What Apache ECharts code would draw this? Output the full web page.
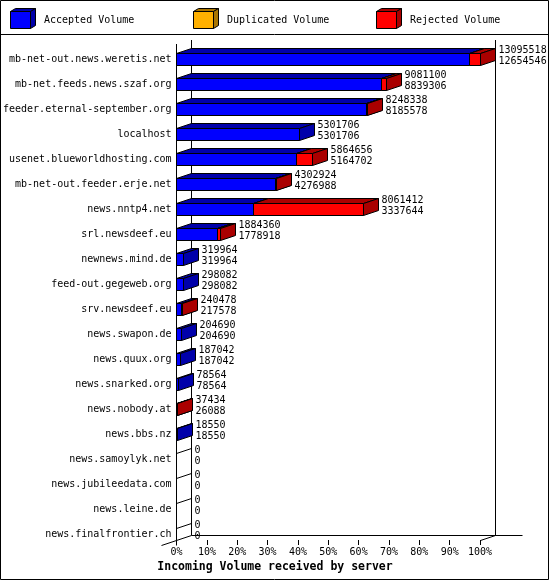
<!DOCTYPE html>
<html><head><meta charset="utf-8">
<script src="https://cdn.jsdelivr.net/npm/echarts@6/dist/echarts.min.js"></script>
<style>html,body{margin:0;padding:0;background:#fff}#c{width:550px;height:580px}</style>
</head><body><div id="c"></div><script>
const servers = [
  'mb-net-out.news.weretis.net','mb-net.feeds.news.szaf.org','feeder.eternal-september.org',
  'localhost','usenet.blueworldhosting.com','mb-net-out.feeder.erje.net','news.nntp4.net',
  'srl.newsdeef.eu','newnews.mind.de','feed-out.gegeweb.org','srv.newsdeef.eu','news.swapon.de',
  'news.quux.org','news.snarked.org','news.nobody.at','news.bbs.nz','news.samoylyk.net',
  'news.jubileedata.com','news.leine.de','news.finalfrontier.ch'
];
const totals = [13095518, 9081100, 8248338, 5301706, 5864656, 4302924, 8061412, 1884360,
  319964, 298082, 240478, 204690, 187042, 78564, 37434, 18550, 0, 0, 0, 0];
const accepted = [12654546, 8839306, 8185578, 5301706, 5164702, 4276988, 3337644, 1778918,
  319964, 298082, 217578, 204690, 187042, 78564, 26088, 18550, 0, 0, 0, 0];
const duplicated = [0, 0, 0, 0, 0, 0, 0, 0, 0, 0, 0, 0, 0, 0, 0, 0, 0, 0, 0, 0];
const rejected = [440972, 241794, 62760, 0, 699954, 25936, 4723768, 105442,
  0, 0, 22900, 0, 0, 0, 11346, 0, 0, 0, 0, 0];
const legendNames = ['Accepted Volume', 'Duplicated Volume', 'Rejected Volume'];
const axisTitle = 'Incoming Volume received by server';

const MONO = '"DejaVu Sans Mono", "Liberation Mono", monospace';
const FRONT = ['#0000ff', '#ffb000', '#ff0000'];
const DARK = ['#0000aa', '#aa7500', '#aa0000'];
const DX = 15, DY = 5;
const MAX = Math.max(...totals);
const snap = v => Math.floor(v) + 0.5;

function faces(x0, x1, yt, yb, dx, dy, front, dark, out) {
  const st = {stroke: '#000', lineWidth: 1};
  out.push({type: 'polygon', shape: {points: [[x0, yt], [x1, yt], [x1, yb], [x0, yb]]}, style: Object.assign({fill: front}, st)});
  out.push({type: 'polygon', shape: {points: [[x0, yt], [x1, yt], [x1 + dx, yt - dy], [x0 + dx, yt - dy]]}, style: Object.assign({fill: dark}, st)});
  out.push({type: 'polygon', shape: {points: [[x1, yt], [x1 + dx, yt - dy], [x1 + dx, yb - dy], [x1, yb]]}, style: Object.assign({fill: dark}, st)});
}

const barData = servers.map((s, i) => [i, accepted[i], duplicated[i], rejected[i], totals[i]]);

function renderBar(params, api) {
  const i = api.value(0);
  const vals = [api.value(1), api.value(2), api.value(3)];
  const tot = api.value(4);
  const X = v => snap(api.coord([v / MAX * 100, i])[0]);
  const yc = api.coord([0, i])[1];
  const h = api.size([0, 1])[1] * 0.24;
  const yt = snap(yc - h), yb = snap(yc + h);
  const children = [];
  let cum = 0;
  if (vals[0] + vals[1] + vals[2] === 0) {
    const x = X(0);
    children.push({type: 'line', shape: {x1: x, y1: yt, x2: x + DX, y2: yt - DY}, style: {stroke: '#000', lineWidth: 1}});
  } else {
    for (let k = 0; k < 3; k++) {
      if (vals[k] <= 0) continue;
      const x0 = X(cum), x1 = X(cum + vals[k]);
      faces(x0, x1, yt, yb, DX, DY, FRONT[k], DARK[k], children);
      cum += vals[k];
    }
  }
  const tx = X(cum) + DX + 3;
  const ts = {fill: '#000', fontSize: 10, fontFamily: MONO, verticalAlign: 'middle', align: 'left'};
  children.push({type: 'text', style: Object.assign({text: String(tot), x: tx, y: yc - 9}, ts)});
  children.push({type: 'text', style: Object.assign({text: String(accepted[i]), x: tx, y: yc + 2}, ts)});
  return {type: 'group', children};
}

function renderFrame(params, api) {
  const cs = params.coordSys;
  const x0 = snap(api.coord([0, 0])[0]);
  const x1 = snap(api.coord([100, 0])[0]);
  const fb = snap(cs.y + cs.height - 6.5);
  const bb = fb - DY;
  const ft = cs.y - 2.5, bt = ft - 4;
  const L = (a, b, c, d) => ({type: 'line', shape: {x1: a, y1: b, x2: c, y2: d}, style: {stroke: '#000', lineWidth: 1}});
  return {type: 'group', children: [
    L(x0, ft, x0, fb + 5),
    L(x0 + DX, bt, x0 + DX, bb),
    L(x1 + DX, bt, x1 + DX, bb),
    L(x0 + DX, bb, x1 + 42, bb),
    L(x0 - DX, fb + 5, x0 + DX, bb),
    L(x1, fb, x1 + DX, bb)
  ]};
}

const graphic = [
  {type: 'rect', shape: {x: 0.5, y: 0.5, width: 548, height: 579}, style: {fill: 'none', stroke: '#000', lineWidth: 1}},
  {type: 'line', shape: {x1: 0, y1: 34.5, x2: 549, y2: 34.5}, style: {stroke: '#000', lineWidth: 1}}
];
const legX = [10, 193, 376];
legendNames.forEach((name, k) => {
  const els = [];
  faces(legX[k] + 0.5, legX[k] + 20.5, 11.5, 28.5, 5, 3, FRONT[k], DARK[k], els);
  els.forEach(e => graphic.push(e));
  graphic.push({type: 'text', style: {text: name, x: legX[k] + 34, y: 20.5, fill: '#000', fontSize: 10, fontFamily: MONO, verticalAlign: 'middle'}});
});

const option = {
  animation: false,
  title: {text: axisTitle, left: 'center', top: 561, padding: 0,
    textStyle: {fontFamily: MONO, fontWeight: 'bold', fontSize: 11.5, color: '#000'}},
  grid: {left: 176, top: 46.5, width: 304, height: 500},
  xAxis: {type: 'value', min: 0, max: 100, interval: 10, offset: -6.5,
    axisLine: {show: false}, splitLine: {show: false},
    axisTick: {show: true, length: 5, lineStyle: {color: '#000', width: 1}},
    axisLabel: {formatter: '{value}%', fontFamily: MONO, fontSize: 10, color: '#000', margin: 7}},
  yAxis: {type: 'category', data: servers, inverse: true,
    axisLine: {show: false}, axisTick: {show: false}, splitLine: {show: false},
    axisLabel: {fontFamily: MONO, fontSize: 10, color: '#000', margin: 5, interval: 0}},
  series: [
    {type: 'custom', name: 'frame', z: 1, silent: true, renderItem: renderFrame, data: [[0, 0]], encode: {x: 0, y: 1}},
    {type: 'custom', name: 'volume', z: 2, silent: true, renderItem: renderBar, data: barData, encode: {y: 0, x: 1}}
  ],
  graphic
};
const chart = echarts.init(document.getElementById('c'), null, {renderer: 'canvas'});
chart.setOption(option);
</script></body></html>
